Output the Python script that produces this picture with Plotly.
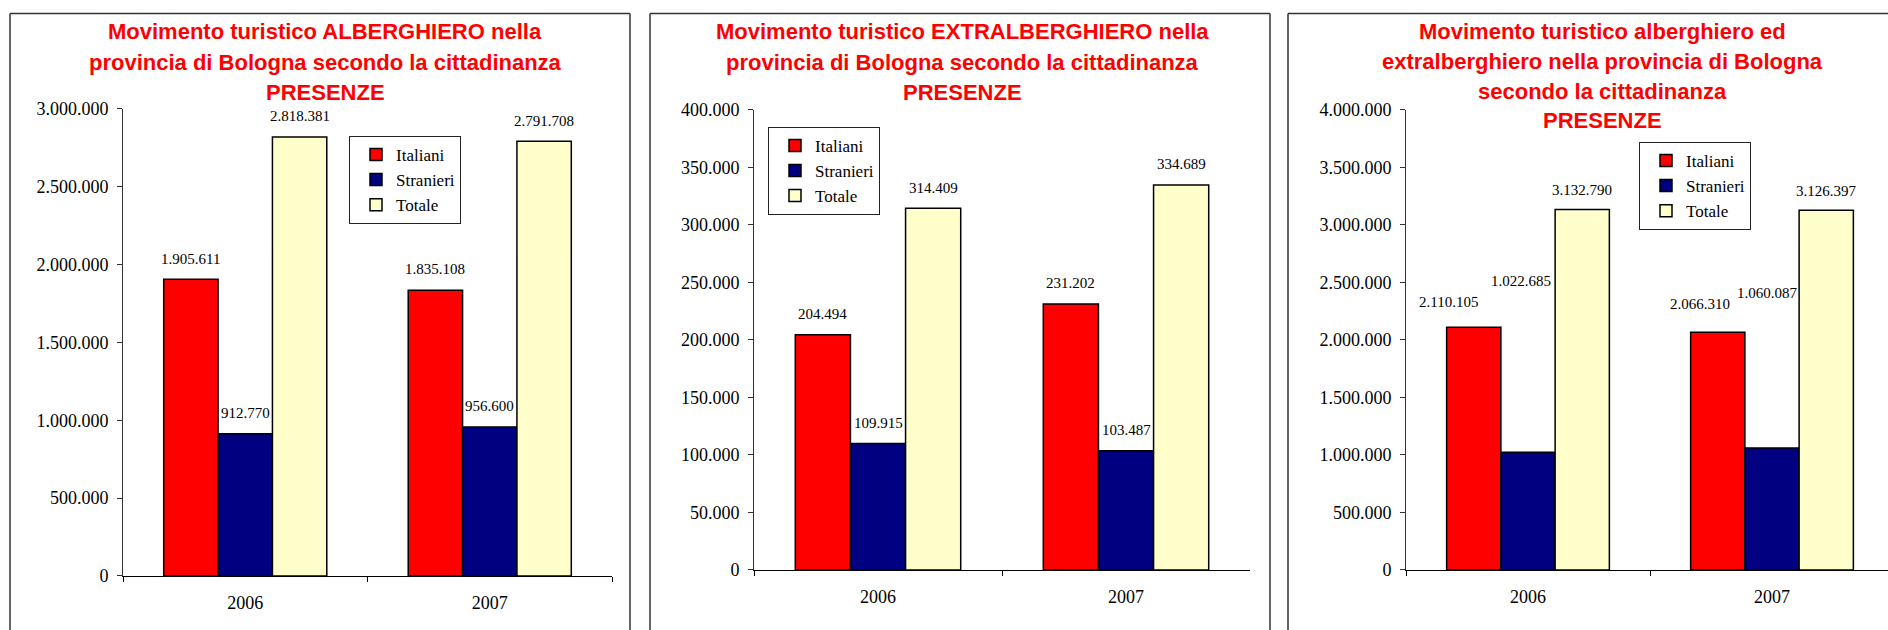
import plotly.graph_objects as go

# ---------------- data ----------------
years = ["2006", "2007"]
series_names = ["Italiani", "Stranieri", "Totale"]

alb_italiani = [1905611, 1835108]
alb_stranieri = [912770, 956600]
alb_totale = [2818381, 2791708]

extra_italiani = [204494, 231202]
extra_stranieri = [109915, 103487]
extra_totale = [314409, 334689]

tot_italiani = [2110105, 2066310]
tot_stranieri = [1022685, 1060087]
tot_totale = [3132790, 3126397]

title_alb = ["Movimento turistico ALBERGHIERO nella",
             "provincia di Bologna secondo la cittadinanza",
             "PRESENZE"]
title_extra = ["Movimento turistico EXTRALBERGHIERO nella",
               "provincia di Bologna secondo la cittadinanza",
               "PRESENZE"]
title_tot = ["Movimento turistico alberghiero ed",
             "extralberghiero nella provincia di Bologna",
             "secondo la cittadinanza",
             "PRESENZE"]

# ---------------- style ----------------
W, H = 1888, 630
COLORS = ["#FF0000", "#000080", "#FFFFCC"]
SERIF = "Times New Roman, Liberation Serif, serif"
SANS = "Arial, Liberation Sans, sans-serif"
BARGAP = 0.333
# vertical calibration of the rendered picture
YOFF, YSCALE = 10.4, 0.966


def px(x):
    return x / W


def py(y):
    return 1 - ((y - YOFF) / YSCALE) / H


def sy(d):
    return d / YSCALE


def fmt(v):
    return f"{v:,}".replace(",", ".")


panels = [
    dict(series=[alb_italiani, alb_stranieri, alb_totale], titles=title_alb,
         xdom=(123, 612), ydom=(575, 109), yrange=(0, 3000000), dtick=500000,
         legend=(349, 136), border=(10, 630), tcenter=325,
         ty=[32, 63, 93], label_dx=[[0, 0], [0, 0], [0, 0]],
         label_dy=[[20, 20], [20, 20], [20, 20]]),
    dict(series=[extra_italiani, extra_stranieri, extra_totale], titles=title_extra,
         xdom=(754, 1250), ydom=(569, 110), yrange=(0, 400000), dtick=50000,
         legend=(768, 127), border=(650, 1270), tcenter=963,
         ty=[32, 63, 93], label_dx=[[0, 0], [0, 0], [0, 0]],
         label_dy=[[20, 20], [20, 20], [20, 20]]),
    dict(series=[tot_italiani, tot_stranieri, tot_totale], titles=title_tot,
         xdom=(1406, 1894), ydom=(569, 110), yrange=(0, 4000000), dtick=500000,
         legend=(1639, 142), border=(1288, 1960), tcenter=1602,
         ty=[32, 62, 92, 121], label_dx=[[-25, -18], [-7, -5], [0, 0]],
         label_dy=[[24, 27], [165, 150], [19, 19]]),
]

fig = go.Figure()
annotations = []
shapes = []
layout_extra = {}

for k, p in enumerate(panels):
    n = "" if k == 0 else str(k + 1)
    xa, ya = "x" + n, "y" + n
    leg = "legend" + n
    for j, (name, vals) in enumerate(zip(series_names, p["series"])):
        fig.add_trace(go.Bar(
            x=years, y=vals, name=name, xaxis=xa, yaxis=ya, legend=leg,
            marker=dict(color=COLORS[j], line=dict(color="black", width=1.5)),
            hoverinfo="skip",
        ))
        w = (1 - BARGAP) / 3
        for i, v in enumerate(vals):
            annotations.append(dict(
                x=i + (j - 1) * w, y=v, xref=xa, yref=ya,
                text=fmt(v), showarrow=False, yanchor="middle", xanchor="center",
                xshift=p["label_dx"][j][i], yshift=sy(p["label_dy"][j][i]),
                font=dict(family=SERIF, size=15, color="black"),
            ))
    x0, x1 = p["xdom"]
    cat_px = (x1 - x0) / 2
    xdom_end = min(x1, W)
    xr_end = -0.5 + (xdom_end - x0) / cat_px
    layout_extra["xaxis" + n] = dict(
        domain=[px(x0), px(xdom_end)], anchor=ya, type="category",
        range=[-0.5, xr_end], showline=True, linecolor="black", linewidth=1.2,
        ticks="outside", tickson="boundaries", ticklen=5, tickcolor="black",
        ticklabelstandoff=10,
        tickfont=dict(family=SERIF, size=18, color="black"),
        showgrid=False, zeroline=False, fixedrange=True,
    )
    layout_extra["yaxis" + n] = dict(
        domain=[py(p["ydom"][0]), py(p["ydom"][1])], anchor=xa,
        range=list(p["yrange"]), dtick=p["dtick"], tickformat=",d",
        showline=True, linecolor="#333", linewidth=1,
        ticks="outside", ticklen=5, tickcolor="#333", ticklabelstandoff=5,
        tickfont=dict(family=SERIF, size=18, color="black"),
        showgrid=False, zeroline=False, fixedrange=True,
    )
    layout_extra[leg] = dict(
        x=px(p["legend"][0]), y=py(p["legend"][1]), xanchor="left", yanchor="top",
        bgcolor="white", bordercolor="#222", borderwidth=1,
        font=dict(family=SERIF, size=17, color="black"),
        indentation=6, tracegroupgap=0, traceorder="normal",
        entrywidth=76, entrywidthmode="pixels",
    )
    for t, ty in zip(p["titles"], p["ty"]):
        annotations.append(dict(
            x=px(p["tcenter"]), y=py(ty), xref="paper", yref="paper",
            text=f"<b>{t}</b>", showarrow=False, xanchor="center", yanchor="middle",
            font=dict(family=SANS, size=22, color="#FF0000"),
        ))
    bx0, bx1 = p["border"]
    for (ax0, ay0, ax1, ay1) in [(bx0, 14, bx0, 700), (bx0, 14, bx1, 14), (bx1, 14, bx1, 700)]:
        shapes.append(dict(type="line", xref="paper", yref="paper",
                           x0=px(ax0), y0=py(ay0), x1=px(ax1), y1=py(ay1),
                           line=dict(color="#333", width=1.5)))

fig.update_layout(
    width=W, height=H, margin=dict(l=0, r=0, t=0, b=0),
    paper_bgcolor="white", plot_bgcolor="white",
    barmode="group", bargap=BARGAP, bargroupgap=0,
    separators=",.", showlegend=True,
    annotations=annotations, shapes=shapes,
    **layout_extra,
)

fig.write_html(
    "out.html",
    config={"displayModeBar": False},
    post_script="document.body.style.margin='0';document.body.style.overflow='hidden';",
)
